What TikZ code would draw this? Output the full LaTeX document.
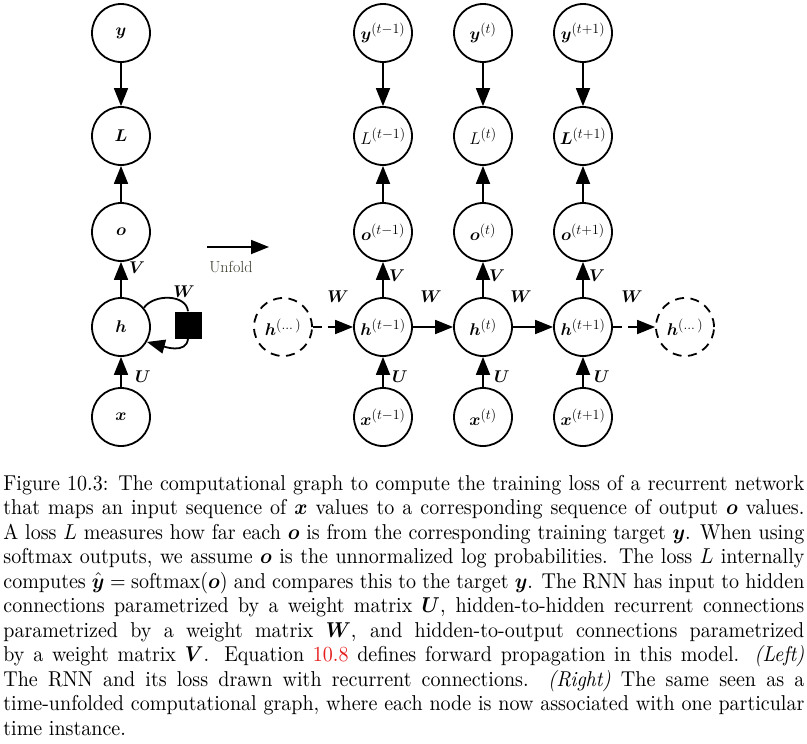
\RequirePackage{fix-cm}
\documentclass[tikz,border=0pt]{standalone}
\usepackage{amsmath}
\usetikzlibrary{arrows.meta}
\DeclareMathSizes{17}{17}{14}{10}
\definecolor{unfoldc}{RGB}{60,60,45}
\definecolor{linkred}{RGB}{230,30,30}
\begin{document}
\begin{tikzpicture}[x=1pt,y=-1pt,
  nd/.style={circle,draw,line width=1.8pt,minimum size=58pt,inner sep=0pt,font=\fontsize{17}{20}\selectfont},
  dnd/.style={nd,dash pattern=on 9pt off 6.5pt},
  arr/.style={line width=1.8pt,-{Triangle[length=18pt,width=14pt]}},
  darr/.style={arr,dash pattern=on 9pt off 6pt},
  lab/.style={font=\fontsize{17}{20}\selectfont,inner sep=0pt},
  sqbox/.style={fill,minimum size=27pt,inner sep=0pt}
]
\useasboundingbox (0,0) rectangle (807,744);
% left (folded) graph
\node[nd] (y) at (121,33) {$\boldsymbol{y}$};
\node[nd] (L) at (121,136) {$\boldsymbol{L}$};
\node[nd] (o) at (121,232) {$\boldsymbol{o}$};
\node[nd] (h) at (121,327) {$\boldsymbol{h}$};
\node[nd] (x) at (121,417) {$\boldsymbol{x}$};
\node[sqbox] (s) at (188,325) {};
\draw[arr] (y) -- (L);
\draw[arr] (o) -- (L);
\draw[arr] (h) -- (o);
\draw[arr] (x) -- (h);
\draw[line width=1.8pt] (h.40) to[out=55,in=95] (s.north);
\draw[arr] (s.south) to[out=-95,in=-15] (h.-30);
\node[lab] (vl) at (137,268) {$\boldsymbol{V}$};
\node[lab] (ul) at (143,377) {$\boldsymbol{U}$};
\node[lab] (wl) at (184,292) {$\boldsymbol{W}$};
% unfold arrow
\coordinate (u1) at (207,247);
\coordinate (u2) at (269,247);
\draw[arr] (u1) -- (u2);
\node[font=\fontsize{16}{18}\selectfont,text=unfoldc,inner sep=0pt] (uf) at (231,267) {Unfold};
% unfolded graph
\node[nd] (ya) at (383,33) {$\boldsymbol{y}^{(t-1)}$};
\node[nd] (yb) at (483,33) {$\boldsymbol{y}^{(t)}$};
\node[nd] (yc) at (583,33) {$\boldsymbol{y}^{(t+1)}$};
\node[nd] (La) at (383,136) {$L^{(t-1)}$};
\node[nd] (Lb) at (483,136) {$L^{(t)}$};
\node[nd] (Lc) at (583,136) {$\boldsymbol{L}^{(t+1)}$};
\node[nd] (oa) at (383,232) {$\boldsymbol{o}^{(t-1)}$};
\node[nd] (ob) at (483,232) {$\boldsymbol{o}^{(t)}$};
\node[nd] (oc) at (583,232) {$\boldsymbol{o}^{(t+1)}$};
\node[nd] (ha) at (383,327) {$\boldsymbol{h}^{(t-1)}$};
\node[nd] (hb) at (483,327) {$\boldsymbol{h}^{(t)}$};
\node[nd] (hc) at (583,327) {$\boldsymbol{h}^{(t+1)}$};
\node[nd] (xa) at (383,417) {$\boldsymbol{x}^{(t-1)}$};
\node[nd] (xb) at (483,417) {$\boldsymbol{x}^{(t)}$};
\node[nd] (xc) at (583,417) {$\boldsymbol{x}^{(t+1)}$};
\node[dnd] (hl) at (283,327) {$\boldsymbol{h}^{(\dots)}$};
\node[dnd] (hr) at (685,327) {$\boldsymbol{h}^{(\dots)}$};
\foreach \c in {a,b,c}{
  \draw[arr] (y\c) -- (L\c);
  \draw[arr] (o\c) -- (L\c);
  \draw[arr] (h\c) -- (o\c);
  \draw[arr] (x\c) -- (h\c);
}
\draw[darr] (hl) -- (ha);
\draw[arr] (ha) -- (hb);
\draw[arr] (hb) -- (hc);
\draw[darr] (hc) -- (hr);
\node[lab] (va) at (397,276) {$\boldsymbol{V}$};
\node[lab] (vb) at (497,276) {$\boldsymbol{V}$};
\node[lab] (vc) at (597,276) {$\boldsymbol{V}$};
\node[lab] (ua) at (400,377) {$\boldsymbol{U}$};
\node[lab] (ub) at (502,377) {$\boldsymbol{U}$};
\node[lab] (uc) at (602,377) {$\boldsymbol{U}$};
\node[lab] (w1) at (338,297) {$\boldsymbol{W}$};
\node[lab] (w2) at (431,297) {$\boldsymbol{W}$};
\node[lab] (w3) at (521,297) {$\boldsymbol{W}$};
\node[lab] (w4) at (632,297) {$\boldsymbol{W}$};
% caption
\begin{scope}[shift={(3,490)},xscale=2.0025,yscale=2.15]
\node[transform shape,anchor=base west,inner sep=0pt,text width=400pt,align=justify,font=\fontsize{10}{11.4}\selectfont] (cap) at (0,0) {%
Figure 10.3: The computational graph to compute the training loss of a recurrent network\linebreak
that maps an input sequence of $\boldsymbol{x}$ values to a corresponding sequence of output $\boldsymbol{o}$ values.\linebreak
A loss $L$ measures how far each $\boldsymbol{o}$ is from the corresponding training target $\boldsymbol{y}$. When using\linebreak
softmax outputs, we assume $\boldsymbol{o}$ is the unnormalized log probabilities. The loss $L$ internally\linebreak
computes $\smash[t]{\hat{\boldsymbol{y}}} = \operatorname{softmax}(\boldsymbol{o})$ and compares this to the target $\boldsymbol{y}$. The RNN has input to hidden\linebreak
connections parametrized by a weight matrix $\boldsymbol{U}$, hidden-to-hidden recurrent connections\linebreak
parametrized by a weight matrix $\boldsymbol{W}$, and hidden-to-output connections parametrized\linebreak
by a weight matrix $\boldsymbol{V}$. Equation \textcolor{linkred}{10.8} defines forward propagation in this model. \textit{(Left)}\linebreak
The RNN and its loss drawn with recurrent connections. \textit{(Right)} The same seen as a\linebreak
time-unfolded computational graph, where each node is now associated with one particular\linebreak
time instance.};
\end{scope}
\end{tikzpicture}
\end{document}
